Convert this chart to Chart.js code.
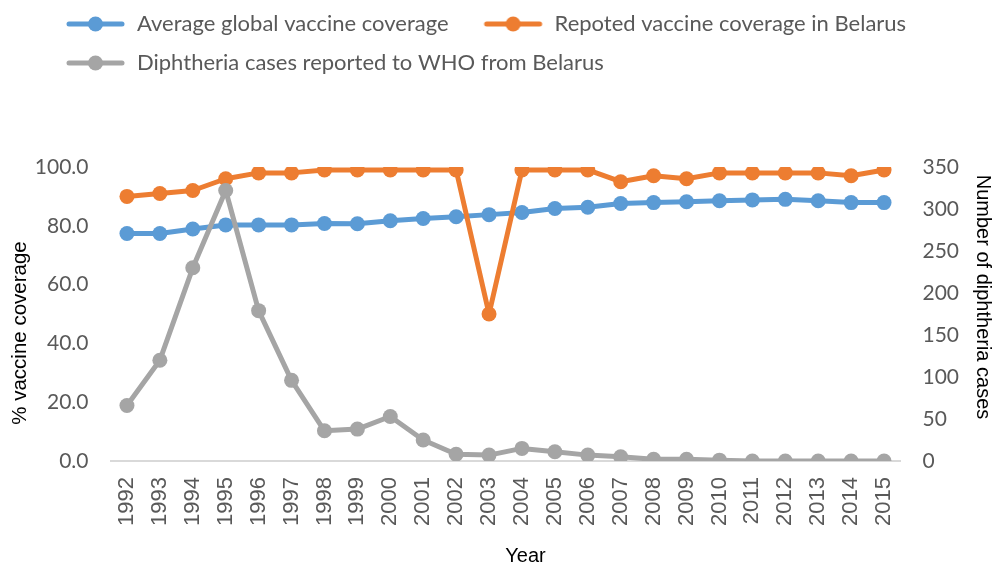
<!DOCTYPE html>
<html>
<head>
<meta charset="utf-8">
<script src="https://cdn.jsdelivr.net/npm/chart.js@4/dist/chart.umd.min.js"></script>
<style>
  html, body { margin: 0; padding: 0; background: #fff; }
  #wrap { width: 997px; height: 568px; }
</style>
</head>
<body>
<div id="wrap"><canvas id="chart" width="997" height="568"></canvas></div>
<script>
// Years on the category axis
const years = ['1992','1993','1994','1995','1996','1997','1998','1999','2000','2001','2002','2003',
               '2004','2005','2006','2007','2008','2009','2010','2011','2012','2013','2014','2015'];

// Average global diphtheria vaccine coverage, %
const globalCoverage = [77.4, 77.4, 78.9, 80.3, 80.3, 80.3, 80.8, 80.7, 81.7, 82.5, 83.1, 83.8,
                        84.5, 85.9, 86.3, 87.6, 87.9, 88.2, 88.5, 88.8, 89.0, 88.5, 87.9, 87.9];

// Reported vaccine coverage in Belarus, %
const belarusCoverage = [90, 91, 92, 96, 98, 98, 99, 99, 99, 99, 99, 50,
                         99, 99, 99, 95, 97, 96, 98, 98, 98, 98, 97, 99];

// Diphtheria cases reported to WHO from Belarus
const diphtheriaCases = [66, 120, 230, 322, 179, 96, 36, 38, 53, 25, 8, 7,
                         15, 11, 7, 5, 2, 2, 1, 0, 0, 0, 0, 0];

const seriesNames = ['Average global vaccine coverage',
                     'Repoted vaccine coverage in Belarus',
                     'Diphtheria cases reported to WHO from Belarus'];

const BLUE = '#5B9BD5', ORANGE = '#ED7D31', GRAY = '#A5A5A5';
const TEXT = '#595959';
const LABEL_FONT = 'Lato, "Open Sans", sans-serif';
const AXIS_FONT = '"Liberation Sans", Arial, sans-serif';

// Legend swatch: a short line with a round marker in the middle
function legendSwatch(color) {
  const c = document.createElement('canvas');
  c.width = 78; c.height = 20;
  const g = c.getContext('2d');
  g.strokeStyle = color;
  g.lineWidth = 5;
  g.lineCap = 'round';
  g.beginPath(); g.moveTo(21, 10); g.lineTo(74, 10); g.stroke();
  g.fillStyle = color;
  g.beginPath(); g.arc(47.5, 10, 7.5, 0, Math.PI * 2); g.fill();
  return c;
}
const swatches = [legendSwatch(BLUE), legendSwatch(ORANGE), legendSwatch(GRAY)];

// Axis titles sit slightly off the centre of their axes
const titleShift = { x: [20, 0], y: [0, 19], y1: [0, -17] };

// Leaves room between the legend and the plot, nudges the legend block,
// and moves the axis titles along their axes
const layoutTweaks = {
  id: 'layoutTweaks',
  beforeInit(chart) {
    const legend = chart.legend;
    const fit = legend.fit;
    legend.fit = function () {
      fit.call(this);
      this.height += 79;
    };
  },
  afterLayout(chart) {
    chart.legend.left += 31;
    chart.legend.top -= 4;
    Object.keys(titleShift).forEach(id => {
      const scale = chart.scales[id];
      if (!scale || scale._titleShifted) return;
      const draw = scale.drawTitle;
      scale.drawTitle = function () {
        const ctx = this.ctx;
        ctx.save();
        ctx.translate(titleShift[id][0], titleShift[id][1]);
        draw.apply(this, arguments);
        ctx.restore();
      };
      scale._titleShifted = true;
    });
  }
};

function lineDataset(label, data, color, axis, order) {
  return {
    label, data, yAxisID: axis, order,
    borderColor: color, backgroundColor: color,
    borderWidth: 5, tension: 0,
    borderJoinStyle: 'round', borderCapStyle: 'round',
    pointRadius: 7.5, pointHoverRadius: 7.5,
    pointBackgroundColor: color, pointBorderWidth: 0,
    pointStyle: 'circle'
  };
}

new Chart(document.getElementById('chart'), {
  type: 'line',
  data: {
    labels: years,
    datasets: [
      lineDataset(seriesNames[0], globalCoverage, BLUE, 'y', 3),
      lineDataset(seriesNames[1], belarusCoverage, ORANGE, 'y', 2),
      lineDataset(seriesNames[2], diphtheriaCases, GRAY, 'y1', 1)
    ]
  },
  options: {
    responsive: false,
    animation: false,
    events: [],
    layout: { padding: 0 },
    plugins: {
      tooltip: { enabled: false },
      legend: {
        position: 'top',
        align: 'start',
        labels: {
          font: { family: LABEL_FONT, size: 22 },
          color: TEXT,
          padding: 17,
          usePointStyle: true,
          pointStyleWidth: 78,
          sort: (a, b) => a.datasetIndex - b.datasetIndex,
          generateLabels(chart) {
            const items = Chart.defaults.plugins.legend.labels.generateLabels(chart);
            items.forEach(it => { it.pointStyle = swatches[it.datasetIndex]; });
            return items;
          }
        }
      }
    },
    scales: {
      x: {
        type: 'category',
        offset: true,
        afterFit: s => { s.height = 107; },
        grid: { display: false, drawTicks: false },
        border: { display: true, color: '#D9D9D9', width: 2 },
        ticks: {
          autoSkip: false, minRotation: 90, maxRotation: 90,
          padding: 16, color: TEXT,
          font: { family: AXIS_FONT, size: 22 }
        },
        title: {
          display: true, text: 'Year', color: '#000',
          font: { family: AXIS_FONT, size: 20 },
          padding: { top: 20, bottom: 0 }
        }
      },
      y: {
        position: 'left',
        min: 0, max: 100,
        afterFit: s => { s.width = 110.5; },
        grid: { display: false, drawTicks: false },
        border: { display: false },
        ticks: {
          stepSize: 20, padding: 22, color: TEXT,
          font: { family: LABEL_FONT, size: 21 },
          callback: v => Number(v).toFixed(1)
        },
        title: {
          display: true, text: '% vaccine coverage', color: '#000',
          font: { family: AXIS_FONT, size: 20.5 },
          padding: { top: 8, bottom: 2 }
        }
      },
      y1: {
        position: 'right',
        min: 0, max: 350,
        afterFit: s => { s.width = 96.5; },
        grid: { display: false, drawTicks: false },
        border: { display: false },
        ticks: {
          stepSize: 50, padding: 22, color: TEXT,
          font: { family: LABEL_FONT, size: 21 }
        },
        title: {
          display: true, text: 'Number of diphtheria cases', color: '#000',
          font: { family: AXIS_FONT, size: 20 },
          padding: { top: 2, bottom: 12 }
        }
      }
    }
  },
  plugins: [layoutTweaks]
});
</script>
</body>
</html>
